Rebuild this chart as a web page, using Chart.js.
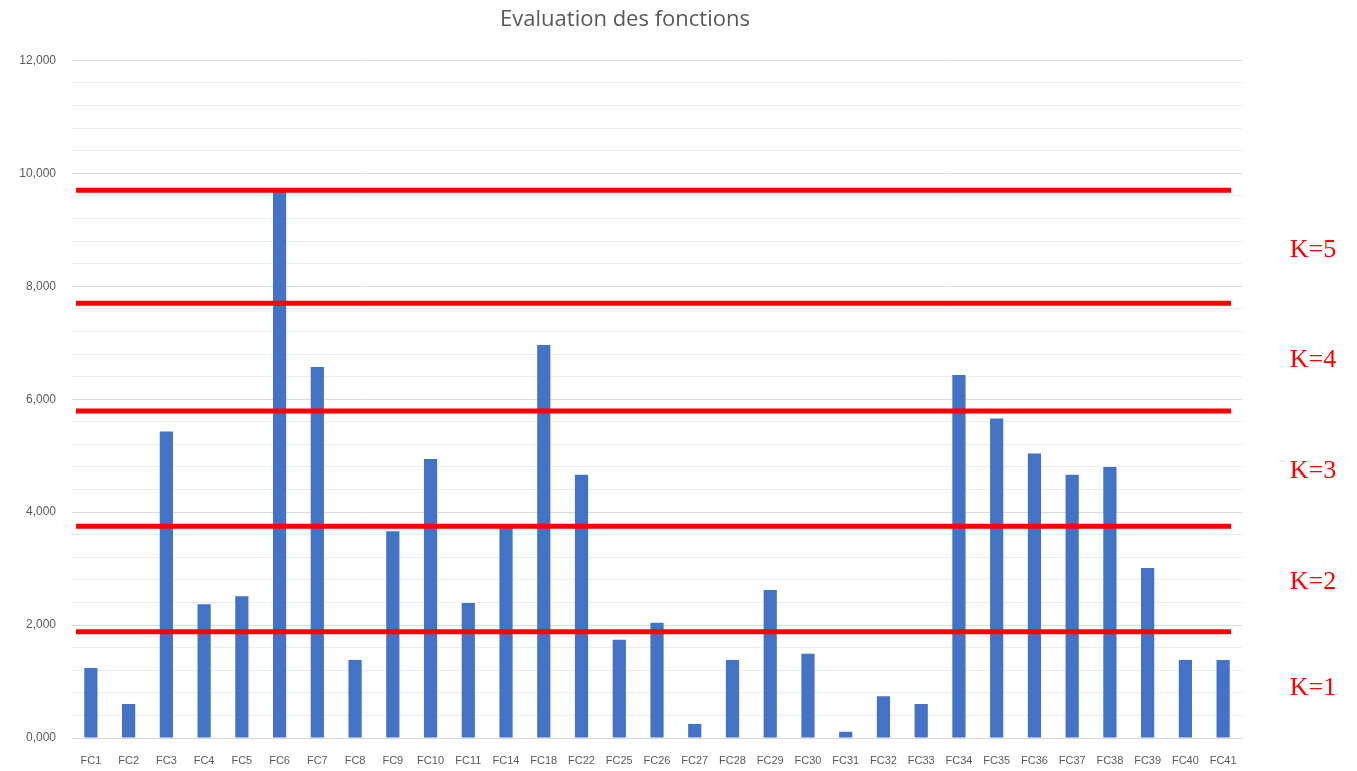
<!DOCTYPE html>
<html>
<head>
<meta charset="utf-8">
<title>Evaluation des fonctions</title>
<script src="https://cdn.jsdelivr.net/npm/chart.js@4.4.0/dist/chart.umd.min.js"></script>
<style>
  body { margin: 0; background: #fff; }
  #wrap { width: 1357px; height: 771px; position: relative; }
</style>
</head>
<body>
<div id="wrap"><canvas id="evalChart"></canvas></div>
<script>
var fonctions = ['FC1', 'FC2', 'FC3', 'FC4', 'FC5', 'FC6', 'FC7', 'FC8', 'FC9', 'FC10',
  'FC11', 'FC14', 'FC18', 'FC22', 'FC25', 'FC26', 'FC27', 'FC28', 'FC29', 'FC30',
  'FC31', 'FC32', 'FC33', 'FC34', 'FC35', 'FC36', 'FC37', 'FC38', 'FC39', 'FC40', 'FC41'];

var evaluations = [1.24, 0.60, 5.43, 2.37, 2.51, 9.70, 6.57, 1.38, 3.66, 4.94,
  2.39, 3.72, 6.96, 4.66, 1.74, 2.04, 0.25, 1.38, 2.62, 1.49,
  0.11, 0.74, 0.60, 6.43, 5.66, 5.04, 4.66, 4.80, 3.01, 1.38, 1.38];

// seuils des classes (lignes rouges)
var seuils = [9.70, 7.70, 5.79, 3.75, 1.88];
var classes = ['K=5', 'K=4', 'K=3', 'K=2', 'K=1'];

var yMin = 0;
var yMax = 12;
var yStep = 0.4;

function formatFr(v) {
  return v.toFixed(3).replace('.', ',');
}

function isMajor(v) {
  return Math.abs(v / 2 - Math.round(v / 2)) < 1e-6;
}

var seuilsPlugin = {
  id: 'seuils',
  afterDatasetsDraw: function (chart) {
    var ctx = chart.ctx;
    var area = chart.chartArea;
    var y = chart.scales.y;
    ctx.save();
    ctx.strokeStyle = '#ff0000';
    ctx.lineWidth = 5;
    for (var i = 0; i < seuils.length; i++) {
      var py = y.getPixelForValue(seuils[i]);
      ctx.beginPath();
      ctx.moveTo(area.left + 4, py);
      ctx.lineTo(area.right - 11, py);
      ctx.stroke();
    }
    ctx.fillStyle = '#ff0000';
    ctx.font = '26px "Liberation Serif", serif';
    ctx.textAlign = 'center';
    ctx.textBaseline = 'middle';
    var tops = [seuils[0] + 1.92].concat(seuils);
    var bas = seuils.concat([yMin]);
    for (var k = 0; k < classes.length; k++) {
      var mid = (tops[k + 1] + bas[k + 1]) / 2;
      ctx.fillText(classes[k], area.right + 71, y.getPixelForValue(mid) + 3);
    }
    ctx.restore();
  }
};

var chartdata = {
  labels: fonctions,
  datasets: [
    {
      label: 'Evaluation',
      backgroundColor: '#4472c4',
      borderWidth: 0,
      data: evaluations,
      categoryPercentage: 1,
      barPercentage: 0.35
    }
  ]
};

var evalChart = new Chart(document.getElementById('evalChart'), {
  type: 'bar',
  data: chartdata,
  options: {
    responsive: true,
    maintainAspectRatio: false,
    animation: false,
    layout: { padding: { left: 8, right: 115, top: 6, bottom: 0 } },
    plugins: {
      legend: { display: false },
      tooltip: { enabled: false },
      title: {
        display: true,
        text: 'Evaluation des fonctions',
        color: '#595959',
        font: { family: '"Open Sans", sans-serif', size: 22, weight: 'normal' },
        padding: { top: 1, bottom: 27 }
      }
    },
    scales: {
      x: {
        grid: { display: false, drawTicks: false },
        border: { color: '#d9d9d9', width: 1 },
        ticks: {
          color: '#595959',
          font: { family: '"Liberation Sans", sans-serif', size: 11 },
          maxRotation: 0,
          autoSkip: false,
          padding: 16
        },
        afterFit: function (scale) { scale.height = 33; }
      },
      y: {
        min: yMin,
        max: yMax,
        border: { display: false },
        grid: {
          drawTicks: false,
          color: function (c) {
            var v = c.tick ? c.tick.value : 0;
            return isMajor(v) ? '#d9d9d9' : '#ececec';
          }
        },
        ticks: {
          stepSize: yStep,
          color: '#595959',
          font: { family: '"Liberation Sans", sans-serif', size: 12 },
          padding: 16,
          callback: function (v) {
            return isMajor(v) ? formatFr(v) : '';
          }
        },
        afterFit: function (scale) { scale.width = 64; }
      }
    }
  },
  plugins: [seuilsPlugin]
});
</script>
</body>
</html>
